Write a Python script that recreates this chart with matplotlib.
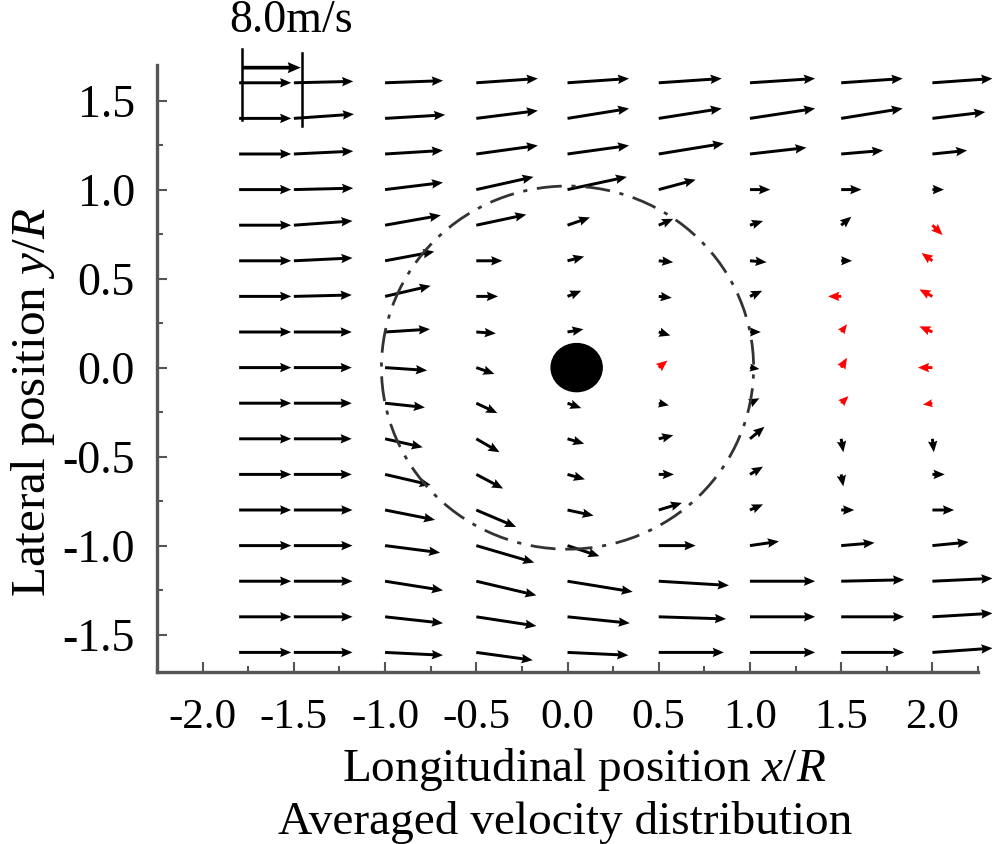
import matplotlib
matplotlib.use("Agg")
import matplotlib.pyplot as plt
import numpy as np
from matplotlib.patches import Circle, Ellipse
from matplotlib.ticker import MultipleLocator, FormatStrFormatter

plt.rcParams["font.family"] = "Liberation Serif"
plt.rcParams["mathtext.fontset"] = "custom"
plt.rcParams["mathtext.rm"] = "Liberation Serif"
plt.rcParams["mathtext.it"] = "Liberation Serif:italic"
plt.rcParams["axes.unicode_minus"] = False

# Measurement grid (x/R of each column, y/R of each row, top to bottom)
x_cols = [-1.8, -1.5, -1.0, -0.5, 0.0, 0.5, 1.0, 1.5, 2.0]
y_rows = [1.6, 1.4, 1.2, 1.0, 0.8, 0.6, 0.4, 0.2, 0.0,
          -0.2, -0.4, -0.6, -0.8, -1.0, -1.2, -1.4, -1.6]

# Averaged velocity components (m/s) per column, rows top to bottom
u_xm18 = [7.2, 7.2, 7.2, 7.2, 7.2, 7.2, 7.2, 7.2, 7.2, 7.2, 7.2, 7.2, 7.2, 7.2, 7.2, 7.2, 7.2]
v_xm18 = [0.0, 0.0, 0.0, 0.0, 0.0, 0.0, 0.0, 0.0, 0.0, 0.0, 0.0, 0.0, 0.0, 0.0, 0.0, 0.0, 0.0]

u_xm15 = [8.2, 8.3, 8.2, 8.2, 8.1, 8.1, 8.0, 8.0, 8.0, 8.0, 8.0, 8.0, 8.1, 8.1, 8.1, 8.1, 8.1]
v_xm15 = [0.2, 0.6, 0.4, 0.2, 0.6, 0.4, 0.2, 0.0, 0.0, 0.0, 0.0, 0.0, 0.0, 0.0, 0.0, 0.0, 0.0]

u_xm10 = [8.0, 8.3, 8.0, 8.0, 7.7, 6.8, 6.3, 6.2, 5.8, 5.5, 5.2, 6.3, 6.9, 7.6, 8.0, 8.0, 8.0]
v_xm10 = [0.3, 0.5, 0.5, 1.0, 1.4, 1.3, 1.5, 0.4, -0.4, -0.6, -1.2, -1.5, -1.4, -1.0, -1.3, -0.9, -0.4]

u_xm05 = [8.5, 8.5, 8.5, 7.9, 6.9, 3.6, 3.0, 2.7, 2.5, 2.9, 3.2, 3.7, 5.5, 8.0, 8.3, 8.3, 7.8]
v_xm05 = [0.6, 1.1, 1.2, 1.8, 1.5, 0.0, 0.0, -0.2, -0.9, -1.4, -1.9, -2.0, -2.4, -2.4, -2.0, -1.3, -1.1]

u_x00 = [8.5, 8.5, 8.5, 8.2, 3.1, 2.3, 1.9, 2.2, 1.0, 1.9, 2.3, 2.4, 3.6, 4.4, 9.0, 8.6, 8.4]
v_x00 = [0.6, 1.4, 1.2, 1.8, 1.1, 0.6, 0.8, 0.4, 0.0, -0.7, -0.7, -0.7, -0.8, -1.5, -1.5, -0.9, -0.4]

u_x05 = [8.7, 8.7, 9.0, 5.1, 2.0, 2.0, 1.8, 1.6, 1.2, 1.4, 2.0, 2.1, 3.2, 5.1, 9.7, 9.3, 9.0]
v_x05 = [0.6, 1.4, 1.5, 1.4, 0.9, -0.2, -0.2, -0.5, 1.0, -0.3, 0.5, 0.0, 1.0, 0.0, -0.6, -0.3, 0.0]

u_x10 = [9.0, 9.0, 7.8, 2.8, 1.8, 2.3, 1.7, 1.5, 1.3, 1.3, 2.0, 1.8, 1.8, 4.0, 9.0, 9.0, 9.0]
v_x10 = [0.6, 1.4, 0.9, 0.0, 0.6, -0.2, 0.8, 0.0, -0.2, 0.7, 1.7, 1.1, 0.8, 0.6, 0.0, 0.0, 0.0]

u_x15 = [8.5, 8.5, 5.8, 2.8, 1.4, 1.5, -1.8, 0.8, 0.8, 1.0, 0.3, 0.3, 1.8, 4.6, 8.7, 8.7, 8.7]
v_x15 = [0.6, 1.4, 0.5, 0.0, 1.2, 0.0, 0.0, 1.1, 1.4, 1.0, -1.9, -1.7, 0.0, 0.4, 0.2, 0.0, 0.0]

u_x20 = [8.3, 7.3, 4.8, 1.6, 1.4, -1.5, -1.8, -1.8, -2.0, -1.3, 0.2, 1.7, 3.0, 5.0, 8.3, 8.3, 8.3]
v_x20 = [0.6, 0.9, 0.5, 0.0, -1.4, 1.1, 1.0, 0.8, 0.0, -0.2, -1.9, 0.0, 0.0, 0.5, 0.4, 0.5, 0.6]

# Points inside the recirculation zone, drawn in red
recirc_x = [0.5, 1.5, 1.5, 1.5, 1.5, 2.0, 2.0, 2.0, 2.0, 2.0, 2.0]
recirc_y = [0.0, 0.4, 0.2, 0.0, -0.2, 0.8, 0.6, 0.4, 0.2, 0.0, -0.2]

ref_speed = 8.0          # reference vector, m/s
rotor_radius = 1.0       # swept area outline, in R
hub_center = (0.05, 0.0)

U = np.column_stack([u_xm18, u_xm15, u_xm10, u_xm05, u_x00, u_x05, u_x10, u_x15, u_x20])
V = np.column_stack([v_xm18, v_xm15, v_xm10, v_xm05, v_x00, v_x05, v_x10, v_x15, v_x20])
X, Y = np.meshgrid(x_cols, y_rows)

red = np.zeros_like(X, dtype=bool)
for rx, ry in zip(recirc_x, recirc_y):
    red |= np.isclose(X, rx) & np.isclose(Y, ry)

fig = plt.figure(figsize=(9.92, 8.44), dpi=100)
ax = fig.add_axes([0.1583, 0.2038, 0.8276, 0.7192])
ax.set_xlim(-2.25, 2.25)
ax.set_ylim(-1.71, 1.70)

SCALE = 25.2  # m/s per data unit
qkw = dict(angles="xy", scale_units="xy", scale=SCALE, width=0.0036,
           headwidth=3.2, headlength=3.8, headaxislength=3.4, clip_on=False)
ax.quiver(X[~red], Y[~red], U[~red], V[~red], color="black", **qkw)
ax.quiver(X[red], Y[red], U[red], V[red], color="red", **qkw)

# Rotor outline and hub
ax.add_patch(Circle((0, 0), rotor_radius * 1.02, fill=False, lw=2.0,
                    ls=(0, (9, 3.5, 1.5, 3.5)), color="#333333"))
ax.add_patch(Ellipse(hub_center, 0.28, 0.27, color="black"))

# Reference vector
ax.quiver([-1.78], [1.685], [ref_speed], [0.0], color="black",
          angles="xy", scale_units="xy", scale=SCALE, width=0.0045,
          headwidth=3.0, headlength=3.5, headaxislength=3.2, clip_on=False)
ax.plot([-1.784, -1.784], [1.79, 1.39], color="black", lw=1.8, clip_on=False)
ax.plot([-1.455, -1.455], [1.77, 1.36], color="black", lw=1.8, clip_on=False)
ax.text(-1.515, 1.83, f"{ref_speed:.1f}m/s", ha="center", va="bottom",
        fontsize=33)

for s in ["top", "right"]:
    ax.spines[s].set_visible(False)
for s in ["left", "bottom"]:
    ax.spines[s].set_linewidth(2.4)
    ax.spines[s].set_color("#555555")

ax.xaxis.set_major_locator(MultipleLocator(0.5))
ax.xaxis.set_minor_locator(MultipleLocator(0.25))
ax.yaxis.set_major_locator(MultipleLocator(0.5))
ax.yaxis.set_minor_locator(MultipleLocator(0.25))
ax.xaxis.set_major_formatter(FormatStrFormatter("%.1f"))
ax.yaxis.set_major_formatter(FormatStrFormatter("%.1f"))
ax.set_xticks([-2.0, -1.5, -1.0, -0.5, 0.0, 0.5, 1.0, 1.5, 2.0])
ax.tick_params(which="major", direction="in", length=7, width=1.5, color="#555555")
ax.tick_params(which="minor", direction="in", length=4, width=1.5, color="#555555")
ax.tick_params(axis="x", labelsize=31, pad=19)
ax.tick_params(axis="y", labelsize=33, pad=16)

fig.text(0.589, 0.088, r"Longitudinal position $x/R$", ha="center", va="center",
         fontsize=34)
fig.text(0.570, 0.026, "Averaged velocity distribution", ha="center", va="center",
         fontsize=34)
fig.text(0.033, 0.523, r"Lateral position $y/R$", ha="center", va="center",
         rotation=90, fontsize=35.5)

fig.savefig("out.png", dpi=100)
